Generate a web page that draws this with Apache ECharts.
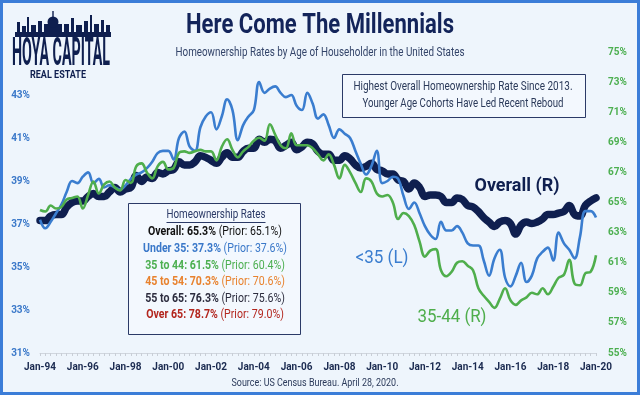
<!DOCTYPE html>
<html><head><meta charset="utf-8">
<script src="https://cdn.jsdelivr.net/npm/echarts@6/dist/echarts.min.js"></script>
<style>html,body{margin:0;padding:0;background:#eef5fc}#c{width:640px;height:395px}</style>
</head><body><div id="c"></div>
<script>
// ---- data (quarterly, Q1 1994 .. Q1 2020) ----
const years = ['94','95','96','97','98','99','00','01','02','03','04','05','06','07','08','09','10','11','12','13','14','15','16','17','18','19','20'];
const months = ['Jan','Apr','Jul','Oct'];
const tickLabels = ['Jan-94','Jan-96','Jan-98','Jan-00','Jan-02','Jan-04','Jan-06','Jan-08','Jan-10','Jan-12','Jan-14','Jan-16','Jan-18','Jan-20'];

const overall = [
 63.8,63.8,64.1,64.2, 64.2,64.7,65.0,65.1, 65.1,65.4,65.6,65.4, 65.4,65.7,66.0,65.7,
 65.9,66.0,66.8,66.4, 66.7,66.6,67.0,66.9, 67.1,67.2,67.7,67.5, 67.5,67.7,68.1,68.0,
 67.8,67.6,68.0,68.3, 68.0,68.0,68.4,68.6, 68.6,69.2,69.0,69.2, 69.1,68.6,68.8,69.0,
 68.5,68.7,69.0,68.9, 68.4,68.2,68.2,67.8, 67.8,68.1,67.9,67.5, 67.3,67.4,67.6,67.2,
 67.1,66.9,66.9,66.5, 66.4,65.9,66.3,66.0, 65.4,65.5,65.5,65.4, 65.0,65.0,65.3,65.2,
 64.8,64.7,64.4,64.0, 63.7,63.4,63.7,63.8, 63.6,62.9,63.5,63.7, 63.6,63.7,63.9,64.2,
 64.2,64.3,64.4,64.8, 64.2,64.1,64.8,65.1, 65.3];

const under35 = [
 37.2,36.8,37.1,37.5, 37.9,38.5,39.0,38.9, 39.2,39.4,38.9,39.1, 38.7,38.8,38.7,38.6,
 38.8,39.1,39.3,39.4, 39.6,39.9,40.3,40.4, 40.4,40.0,41.0,41.3, 40.6,40.4,41.5,42.0,
 42.2,41.4,42.0,42.8, 42.3,40.9,41.6,42.0, 42.3,43.6,43.1,43.3, 43.4,43.1,42.9,43.0,
 42.5,42.3,43.1,42.6, 41.9,42.1,41.6,41.0, 41.4,41.2,41.0,40.4, 39.8,39.3,39.7,40.4,
 38.9,39.0,39.2,39.1, 38.3,37.7,38.0,37.5, 36.9,36.5,36.3,37.1, 36.7,36.7,36.9,36.6,
 36.1,36.0,36.0,35.3, 34.6,35.4,35.8,34.5, 34.1,34.6,35.2,34.3, 34.6,35.4,35.7,35.9,
 35.3,36.6,36.1,35.8, 35.4,36.4,37.6,37.6, 37.3];

const age35to44 = [
 64.5,64.4,64.8,64.6, 64.7,65.2,65.3,65.4, 64.6,65.5,66.4,65.6, 66.2,66.4,66.0,65.8,
 66.5,66.3,67.4,67.6, 67.0,66.6,67.4,67.7, 67.2,67.3,68.3,68.4, 68.3,68.4,68.5,68.4,
 68.4,67.8,68.7,69.2, 68.5,68.0,68.4,68.7, 69.1,69.3,69.1,70.2, 69.5,68.8,68.6,69.6,
 68.8,68.8,68.8,68.6, 68.2,67.8,68.2,67.5, 66.6,67.5,67.0,66.3, 65.7,66.6,66.4,65.6,
 65.4,65.5,65.0,63.9, 64.3,64.1,63.5,62.4, 61.4,61.8,61.9,60.5, 60.1,60.4,61.0,61.1,
 60.8,60.5,59.3,58.8, 58.4,58.0,58.6,59.3, 58.5,58.2,58.5,58.7, 59.0,58.9,59.3,58.9,
 59.4,60.0,60.2,61.2, 59.6,59.5,60.3,60.4, 61.5];

const legendRows = [
 {name:'Overall', value:'65.3%', prior:'65.1%', color:'#111111'},
 {name:'Under 35', value:'37.3%', prior:'37.6%', color:'#3a78c9'},
 {name:'35 to 44', value:'61.5%', prior:'60.4%', color:'#4caf50'},
 {name:'45 to 54', value:'70.3%', prior:'70.6%', color:'#e8822e'},
 {name:'55 to 65', value:'76.3%', prior:'75.6%', color:'#2d2d3f'},
 {name:'Over 65', value:'78.7%', prior:'79.0%', color:'#b3261e'}
];

// ---- build categories ----
const categories = [];
for (const y of years) for (const m of months) categories.push(m + '-' + y);
categories.length = overall.length;

const NAVY = '#0f1f4f', BLUE = '#3a7dcf', GREEN = '#4fae4c', TXT = '#2b3a5a';
const FF = 'Roboto, "Noto Sans", sans-serif';

const mctx = document.createElement('canvas').getContext('2d');
function tw(txt, font){ mctx.font = font; return mctx.measureText(txt).width; }
// text squeezed horizontally to a target width (condensed look)
function fit(txt, font, cx, cy, width, fill){
  return {type:'text', x:cx, y:cy, scaleX: width / tw(txt, font), scaleY:1,
    style:{text:txt, font:font, fill:fill, textAlign:'center', textVerticalAlign:'middle'}};
}

const chart = echarts.init(document.getElementById('c'));
const ch = [];

// frame
ch.push({type:'rect', z:100, shape:{x:1.5,y:1.5,width:637,height:392}, style:{fill:null, stroke:'#3b7dd8', lineWidth:3}});

// title + subtitle
ch.push(fit('Here Come The Millennials', 'bold 27px ' + FF, 320, 26, 268, '#13245a'));
ch.push(fit('Homeownership Rates by Age of Householder in the United States', '12px ' + FF, 320, 53, 289, '#34456a'));

// logo skyline
const sky = [[17,22,3,12],[22,26,4,8],[27,17,2,17],[31,25,5,9],[38,21,4,13],[44,24,18,10],[64,24,5,10],[71,18,3,16],[76,25,6,9],[84,21,4,13],[90,15,2,19],[94,24,5,10],[101,20,3,14],[106,25,4,9]];
sky.forEach(r => ch.push({type:'rect', shape:{x:r[0],y:r[1],width:r[2],height:r[3]}, style:{fill:NAVY}}));
ch.push({type:'circle', shape:{cx:53,cy:22,r:5.5}, style:{fill:NAVY}});
ch.push({type:'rect', shape:{x:52.3,y:11,width:1.4,height:10}, style:{fill:NAVY}});
ch.push({type:'rect', shape:{x:15,y:32,width:96,height:5}, style:{fill:NAVY}});
ch.push(fit('HOYA CAPITAL', 'bold 38px ' + FF, 61, 55, 98, NAVY));
ch.push(fit('REAL ESTATE', 'bold 11px ' + FF, 58, 75, 56, NAVY));

// annotation box
ch.push({type:'rect', shape:{x:342.5,y:74.5,width:243,height:43}, style:{fill:'#f3f8fe', stroke:'#2b3a67', lineWidth:1}});
ch.push(fit('Highest Overall Homeownership Rate Since 2013.', '13px ' + FF, 463, 87, 219, TXT));
ch.push(fit('Younger Age Cohorts Have Led Recent Reboud', '13px ' + FF, 463, 103.5, 201, TXT));

// legend box
ch.push({type:'rect', shape:{x:128.5,y:203.5,width:172,height:131}, style:{fill:'#f3f8fe', stroke:'#2b3a67', lineWidth:1}});
const hdr = fit('Homeownership Rates', '13px ' + FF, 216, 215, 99, '#2b3a67');
ch.push(hdr);
ch.push({type:'rect', shape:{x:216-49.5, y:222, width:99, height:0.9}, style:{fill:'#2b3a67'}});
const LB = 'bold 13.5px ' + FF, LN = '13.5px ' + FF;
const scaleRef = 134 / (tw('Overall: 65.3%', LB) + tw(' (Prior: 65.1%)', LN));
legendRows.forEach((r, k) => {
  ch.push({type:'text', x:215, y:232 + k*16.6, scaleX:scaleRef, style:{
    text:'{b|' + r.name + ': ' + r.value + '} {n|(Prior: ' + r.prior + ')}',
    textAlign:'center', textVerticalAlign:'middle',
    rich:{ b:{fontFamily:FF, fontWeight:'bold', fontSize:13.5, fill:r.color},
           n:{fontFamily:FF, fontSize:13.5, fill:r.color} }
  }});
});

// series labels
ch.push(fit('Overall (R)', 'bold 19px ' + FF, 517, 186, 85, NAVY));
ch.push(fit('<35 (L)', '19px ' + FF, 382, 258, 53, BLUE));
ch.push(fit('35-44 (R)', '19px ' + FF, 452, 317, 69, GREEN));
// source
ch.push(fit('Source: US Census Bureau. April 28, 2020.', '11px ' + FF, 315, 383, 167, TXT));

chart.setOption({
  backgroundColor:'#eef5fc',
  animation:false,
  grid:{left:40, right:44, top:52, bottom:42},
  xAxis:{type:'category', data:categories, boundaryGap:false,
    axisLine:{lineStyle:{color:'#d0d6de', width:1}},
    axisTick:{show:true, interval:0, length:3, lineStyle:{color:'#c8ced6'}},
    axisLabel:{interval:(i)=> i % 8 === 0, formatter:(v)=> tickLabels.includes(v) ? v : '', margin:9,
      fontFamily:FF, fontWeight:'bold', fontSize:10, color:'#1a2a50'}},
  yAxis:[
    {type:'value', min:31, max:45, interval:2, position:'left', splitLine:{show:false},
     axisLine:{show:false}, axisTick:{show:false},
     axisLabel:{formatter:(v)=> v === 45 ? '' : v + '%', margin:10, fontFamily:FF, fontWeight:'bold', fontSize:10, color:'#3a78c9'}},
    {type:'value', min:55, max:75, interval:2, position:'right', splitLine:{show:false},
     axisLine:{show:false}, axisTick:{show:false},
     axisLabel:{formatter:'{value}%', margin:12, fontFamily:FF, fontWeight:'bold', fontSize:10, color:'#4caf50'}}
  ],
  series:[
    {name:'Overall (R)', type:'line', yAxisIndex:1, data:overall, smooth:0.4, showSymbol:false, z:2,
     lineStyle:{color:NAVY, width:7.5, cap:'round', join:'round'}},
    {name:'<35 (L)', type:'line', yAxisIndex:0, data:under35, smooth:0.4, showSymbol:false, z:3,
     lineStyle:{color:BLUE, width:2.6}},
    {name:'35-44 (R)', type:'line', yAxisIndex:1, data:age35to44, smooth:0.4, showSymbol:false, z:4,
     lineStyle:{color:GREEN, width:2.6}}
  ],
  graphic:[{type:'group', left:0, top:0, bounding:'raw', z:40, silent:true, children:ch}]
});
</script></body></html>
